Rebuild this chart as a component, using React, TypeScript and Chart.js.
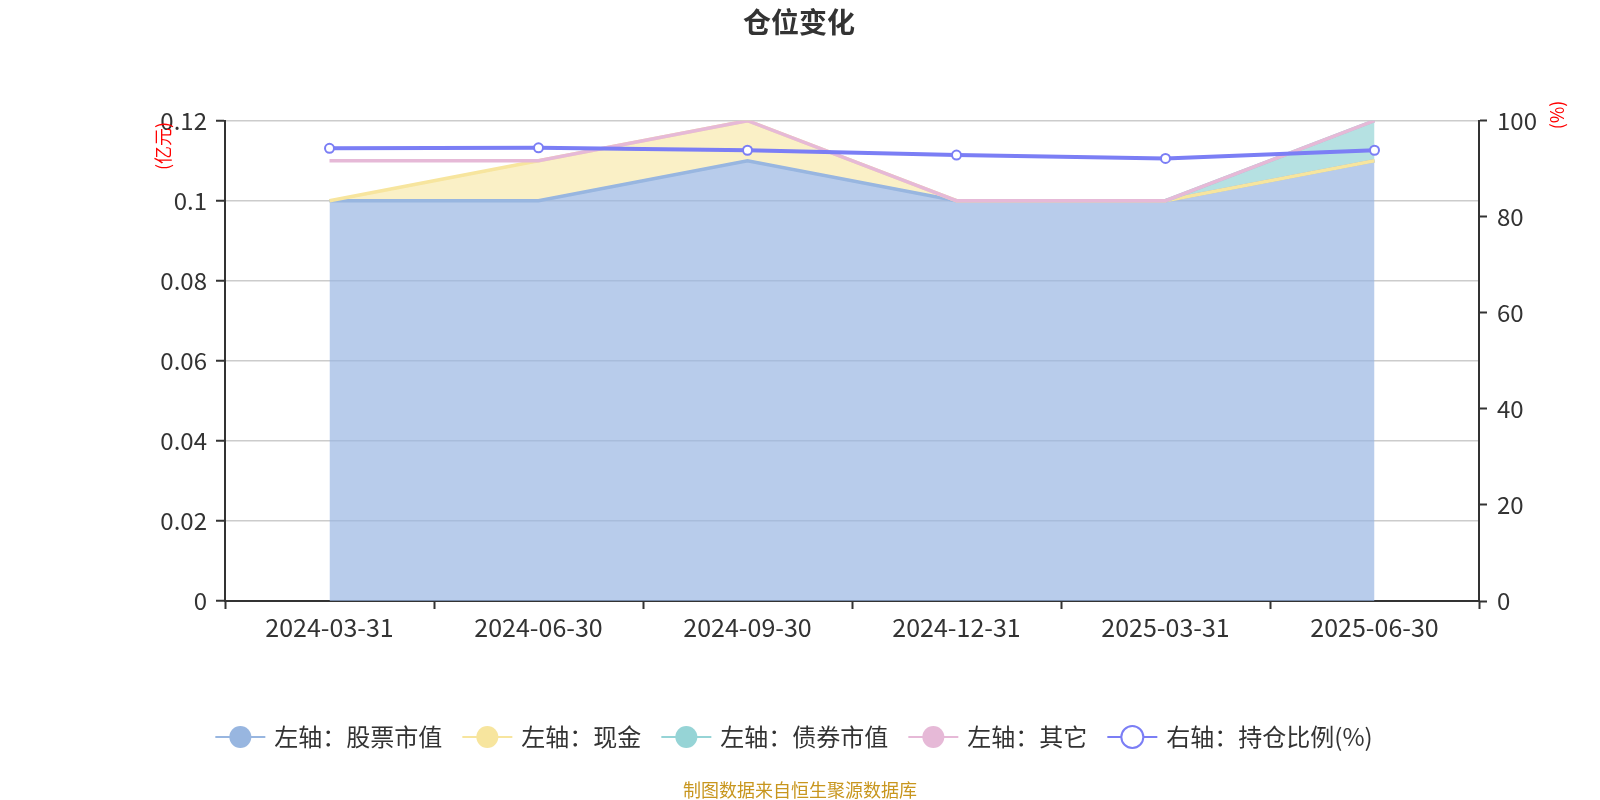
import React, { useEffect, useRef } from "react";
import { Chart, registerables } from "chart.js";

Chart.register(...registerables);

const categories = ["2024-03-31", "2024-06-30", "2024-09-30", "2024-12-31", "2025-03-31", "2025-06-30"];
const stockValues = [0.1, 0.1, 0.11, 0.1, 0.1, 0.11];
const cashValues = [0, 0.01, 0.01, 0, 0, 0];
const bondValues: (number | null)[] = [null, null, null, null, 0, 0.01];
const otherValues = [0.01, 0, 0, 0, 0, 0];
const ratioValues = [94.25, 94.35, 93.85, 92.85, 92.15, 93.85];

const legendLabels = ["左轴：股票市值", "左轴：现金", "左轴：债券市值", "左轴：其它", "右轴：持仓比例(%)"];
const titleText = "仓位变化";
const footerText = "制图数据来自恒生聚源数据库";
const leftAxisName = "(亿元)";
const rightAxisName = "(%)";

const FONT = '"Noto Sans CJK SC", "Noto Sans", sans-serif';
const COLORS = {
  stock: "rgb(152,182,224)",
  stockFill: "rgba(150,180,225,0.68)",
  cash: "rgb(247,229,158)",
  cashFill: "rgba(247,230,160,0.6)",
  bond: "rgb(150,212,214)",
  bondFill: "rgba(150,212,214,0.7)",
  other: "rgb(230,185,215)",
  ratio: "rgb(123,126,245)",
};

const r = (v: number) => Math.round(v * 1e6) / 1e6;

export default function App() {
  const ref = useRef<HTMLCanvasElement | null>(null);

  useEffect(() => {
    const canvas = ref.current;
    if (!canvas) return;

    const cashTop = stockValues.map((s, i) => r(s + cashValues[i]));
    const bondTop = bondValues.map((b, i) => (b === null ? null : r(cashTop[i] + b)));
    const otherTop = otherValues.map((o, i) => r(cashTop[i] + (bondValues[i] ?? 0) + o));

    const overlay = {
      id: "overlay",
      afterDraw(chart: any) {
        const ctx = chart.ctx as CanvasRenderingContext2D;
        ctx.save();
        ctx.fillStyle = "#333";
        ctx.font = `bold 28px ${FONT}`;
        ctx.textAlign = "center";
        ctx.textBaseline = "middle";
        ctx.fillText(titleText, 799, 22);
        ctx.fillStyle = "red";
        ctx.font = `18px ${FONT}`;
        ctx.save();
        ctx.translate(163, 146);
        ctx.rotate(-Math.PI / 2);
        ctx.fillText(leftAxisName, 0, 0);
        ctx.restore();
        ctx.save();
        ctx.translate(1557, 115);
        ctx.rotate(-Math.PI / 2);
        ctx.fillText(rightAxisName, 0, 0);
        ctx.restore();
        ctx.fillStyle = "#c8961e";
        ctx.font = `18px ${FONT}`;
        ctx.fillText(footerText, 800, 790);
        const items = [
          { label: legendLabels[0], color: COLORS.stock, hollow: false },
          { label: legendLabels[1], color: COLORS.cash, hollow: false },
          { label: legendLabels[2], color: COLORS.bond, hollow: false },
          { label: legendLabels[3], color: COLORS.other, hollow: false },
          { label: legendLabels[4], color: COLORS.ratio, hollow: true },
        ];
        ctx.font = `24px ${FONT}`;
        const iconW = 50;
        const gapText = 9;
        const gapItem = 20;
        const widths = items.map((it) => iconW + gapText + ctx.measureText(it.label).width);
        const total = widths.reduce((a, b) => a + b, 0) + gapItem * (items.length - 1);
        let x = 794 - total / 2;
        const y = 737;
        items.forEach((it, i) => {
          ctx.strokeStyle = it.color;
          ctx.lineWidth = 2;
          ctx.beginPath();
          ctx.moveTo(x, y);
          ctx.lineTo(x + iconW, y);
          ctx.stroke();
          ctx.beginPath();
          ctx.arc(x + iconW / 2, y, 11, 0, Math.PI * 2);
          if (it.hollow) {
            ctx.fillStyle = "#fff";
            ctx.fill();
            ctx.lineWidth = 2;
            ctx.stroke();
          } else {
            ctx.fillStyle = it.color;
            ctx.fill();
          }
          ctx.fillStyle = "#333";
          ctx.textAlign = "left";
          ctx.textBaseline = "middle";
          ctx.fillText(it.label, x + iconW + gapText, y);
          x += widths[i] + gapItem;
        });
        ctx.restore();
      },
    };

    const chart = new Chart(canvas, {
      type: "line",
      data: {
        labels: categories,
        datasets: [
          {
            label: legendLabels[0],
            data: stockValues,
            yAxisID: "y",
            borderColor: COLORS.stock,
            backgroundColor: COLORS.stockFill,
            borderWidth: 3.5,
            pointRadius: 0,
            fill: "origin",
            order: 4,
          },
          {
            label: legendLabels[1],
            data: cashTop,
            yAxisID: "y",
            borderColor: COLORS.cash,
            backgroundColor: COLORS.cashFill,
            borderWidth: 3.5,
            pointRadius: 0,
            fill: "-1",
            order: 3,
          },
          {
            label: legendLabels[2],
            data: bondTop,
            yAxisID: "y",
            borderColor: COLORS.bond,
            backgroundColor: COLORS.bondFill,
            borderWidth: 3.5,
            pointRadius: 0,
            fill: 1,
            spanGaps: false,
            order: 2,
          },
          {
            label: legendLabels[3],
            data: otherTop,
            yAxisID: "y",
            borderColor: COLORS.other,
            backgroundColor: COLORS.other,
            borderWidth: 3.5,
            pointRadius: 0,
            fill: false,
            order: 1,
          },
          {
            label: legendLabels[4],
            data: ratioValues,
            yAxisID: "y1",
            borderColor: COLORS.ratio,
            backgroundColor: "#fff",
            borderWidth: 4,
            pointRadius: 4.5,
            pointBorderWidth: 2,
            pointBackgroundColor: "#fff",
            pointBorderColor: COLORS.ratio,
            fill: false,
            order: 0,
          },
        ],
      },
      options: {
        animation: false,
        responsive: false,
        devicePixelRatio: 1,
        layout: { padding: { top: 120.7, left: 0, right: 0, bottom: 139 } },
        plugins: {
          legend: { display: false },
          title: { display: false },
          tooltip: { enabled: false },
          filler: { drawTime: "beforeDatasetsDraw" },
        } as any,
        scales: {
          x: {
            type: "category",
            offset: true,
            grid: {
              offset: true,
              drawOnChartArea: false,
              drawTicks: true,
              tickLength: 8,
              tickColor: "#333",
              tickWidth: 2,
            },
            border: { display: true, color: "#333", width: 2 },
            ticks: {
              color: "#333",
              font: { family: FONT, size: 25 },
              padding: 3,
              maxRotation: 0,
              autoSkip: false,
            },
            afterFit: (s: any) => {
              s.height = 60;
            },
          },
          y: {
            position: "left",
            min: 0,
            max: 0.12,
            ticks: {
              stepSize: 0.02,
              color: "#333",
              font: { family: FONT, size: 24 },
              padding: 9,
              callback: (v: any) => String(Number(Number(v).toFixed(4))),
            },
            grid: {
              color: "#ccc",
              lineWidth: 1.5,
              drawTicks: true,
              tickLength: 9,
              tickColor: "#333",
              tickWidth: 2,
            },
            border: { display: true, color: "#333", width: 2 },
            afterFit: (s: any) => {
              s.width = 225;
            },
          },
          y1: {
            position: "right",
            min: 0,
            max: 100,
            ticks: {
              stepSize: 20,
              color: "#333",
              font: { family: FONT, size: 24 },
              padding: 10,
            },
            grid: {
              drawOnChartArea: false,
              drawTicks: true,
              tickLength: 8,
              tickColor: "#333",
              tickWidth: 2,
            },
            border: { display: true, color: "#333", width: 2 },
            afterFit: (s: any) => {
              s.width = 121;
            },
          },
        },
      },
      plugins: [overlay],
    });

    return () => chart.destroy();
  }, []);

  return (
    <div style={{ position: "absolute", left: 0, top: 0, width: 1600, height: 800, background: "#fff" }}>
      <canvas ref={ref} width={1600} height={800} style={{ width: 1600, height: 800, display: "block" }} />
    </div>
  );
}
